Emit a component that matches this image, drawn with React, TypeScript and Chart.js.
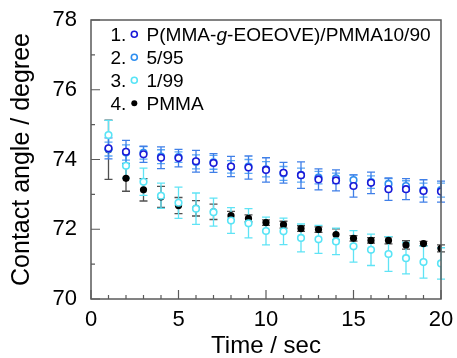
import React, { useEffect, useRef } from 'react';
import { Chart, registerables } from 'chart.js';
Chart.register(...registerables);

const times = [1, 2, 3, 4, 5, 6, 7, 8, 9, 10, 11, 12, 13, 14, 15, 16, 17, 18, 19, 20];
const seriesLabels = ['P(MMA-g-EOEOVE)/PMMA10/90', '5/95', '1/99', 'PMMA'];

const s1Vals = [74.32, 74.22, 74.15, 74.05, 74.04, 73.95, 73.90, 73.80, 73.77, 73.70, 73.62, 73.55, 73.43, 73.40, 73.24, 73.33, 73.15, 73.15, 73.10, 73.08];
const s1Err = [0.30, 0.33, 0.23, 0.31, 0.25, 0.31, 0.27, 0.29, 0.33, 0.35, 0.30, 0.38, 0.30, 0.30, 0.32, 0.31, 0.32, 0.30, 0.32, 0.30];
const s2Vals = [74.30, 74.20, 74.19, 74.08, 74.07, 73.93, 73.92, 73.79, 73.80, 73.72, 73.60, 73.55, 73.48, 73.46, 73.41, 73.35, 73.30, 73.24, 73.12, 73.12];
const s2Err = [0.20, 0.22, 0.18, 0.20, 0.15, 0.20, 0.20, 0.18, 0.20, 0.22, 0.20, 0.20, 0.18, 0.15, 0.15, 0.18, 0.15, 0.15, 0.20, 0.20];
const s3Vals = [74.70, 73.82, 73.36, 72.96, 72.76, 72.59, 72.49, 72.25, 72.17, 71.95, 71.94, 71.75, 71.71, 71.65, 71.51, 71.41, 71.29, 71.17, 71.06, 71.02];
const s3Err = [0.42, 0.35, 0.39, 0.36, 0.45, 0.45, 0.40, 0.37, 0.42, 0.40, 0.38, 0.40, 0.40, 0.38, 0.45, 0.45, 0.50, 0.45, 0.46, 0.45];
const s4Vals = [74.28, 73.46, 73.13, 72.93, 72.68, 72.60, 72.50, 72.39, 72.31, 72.19, 72.13, 72.02, 71.99, 71.85, 71.74, 71.68, 71.68, 71.55, 71.59, 71.45];
const s4Err = [0.85, 0.37, 0.32, 0.30, 0.23, 0.22, 0.22, 0.12, 0.10, 0.08, 0.10, 0.08, 0.08, 0.16, 0.08, 0.08, 0.10, 0.12, 0.06, 0.10];

const xMajorTicks = [0, 5, 10, 15, 20];
const yMajorTicks = [70, 72, 74, 76, 78];

const FONT = '"Liberation Sans", Arial, sans-serif';

const markerColors = ['#1a1ad8', '#2f8ff0', '#58e4f6', '#000000'];
const barColors = ['#3f7fe8', '#5aa8f5', '#5fe3f5', '#505050'];
const errs = [s1Err, s2Err, s3Err, s4Err];

const errorBarPlugin = {
  id: 'errorBars',
  beforeDatasetsDraw(chart: any) {
    const { ctx, scales } = chart;
    const xs = scales.x, ys = scales.y;
    ctx.save();
    ctx.lineWidth = 1.3;
    for (let d = chart.data.datasets.length - 1; d >= 0; d--) {
      const ds = chart.data.datasets[d];
      const e = errs[d];
      ctx.strokeStyle = barColors[d];
      ds.data.forEach((p: any, i: number) => {
        const x = xs.getPixelForValue(p.x);
        const yt = ys.getPixelForValue(p.y + e[i]);
        const yb = ys.getPixelForValue(p.y - e[i]);
        ctx.beginPath();
        ctx.moveTo(x, yt); ctx.lineTo(x, yb);
        ctx.moveTo(x - 4, yt); ctx.lineTo(x + 4, yt);
        ctx.moveTo(x - 4, yb); ctx.lineTo(x + 4, yb);
        ctx.stroke();
      });
    }
    ctx.restore();
  },
};

const framePlugin = {
  id: 'frame',
  afterDraw(chart: any) {
    const { ctx, chartArea: a, scales } = chart;
    ctx.save();
    ctx.strokeStyle = '#5a5a5a';
    ctx.lineWidth = 1.5;
    ctx.strokeRect(a.left, a.top, a.right - a.left, a.bottom - a.top);
    ctx.lineWidth = 1.2;
    ctx.beginPath();
    for (let v = 0; v <= 20; v++) {
      const x = scales.x.getPixelForValue(v);
      const len = v % 5 === 0 ? 9 : 4;
      ctx.moveTo(x, a.bottom); ctx.lineTo(x, a.bottom - len);
    }
    for (let v = 70; v <= 78; v++) {
      const y = scales.y.getPixelForValue(v);
      const len = v % 2 === 0 ? 9 : 4;
      ctx.moveTo(a.left, y); ctx.lineTo(a.left + len, y);
    }
    ctx.stroke();
    ctx.restore();
  },
};

const legendPlugin = {
  id: 'customLegend',
  afterDraw(chart: any) {
    const { ctx } = chart;
    ctx.save();
    const size = 18;
    const normal = `${size}px ${FONT}`;
    const italic = `italic ${size}px ${FONT}`;
    const baselines = [40.5, 63.5, 86.5, 109.5];
    seriesLabels.forEach((label, i) => {
      const by = baselines[i];
      ctx.save();
      ctx.translate(110.5, by);
      ctx.scale(1.06, 1);
      ctx.fillStyle = '#000';
      ctx.textBaseline = 'alphabetic';
      ctx.textAlign = 'left';
      ctx.font = normal;
      ctx.fillText(`${i + 1}.`, 0, 0);
      ctx.restore();
      ctx.beginPath();
      ctx.arc(134.3, by - 6.3, 3, 0, Math.PI * 2);
      if (i === 3) {
        ctx.fillStyle = '#000';
        ctx.fill();
      } else {
        ctx.strokeStyle = markerColors[i];
        ctx.lineWidth = 1.6;
        ctx.stroke();
      }
      ctx.save();
      ctx.translate(146.5, by);
      ctx.scale(1.06, 1);
      ctx.fillStyle = '#000';
      ctx.textBaseline = 'alphabetic';
      ctx.textAlign = 'left';
      let x = 0;
      const parts = label.split(/(-g-)/);
      parts.forEach((part) => {
        if (part === '-g-') {
          ctx.font = normal; ctx.fillText('-', x, 0); x += ctx.measureText('-').width;
          ctx.font = italic; ctx.fillText('g', x, 0); x += ctx.measureText('g').width;
          ctx.font = normal; ctx.fillText('-', x, 0); x += ctx.measureText('-').width;
        } else {
          ctx.font = normal; ctx.fillText(part, x, 0); x += ctx.measureText(part).width;
        }
      });
      ctx.restore();
    });
    ctx.restore();
  },
};

function toPoints(vals: number[]) {
  return times.map((t, i) => ({ x: t, y: vals[i] }));
}

export default function App() {
  const ref = useRef<HTMLCanvasElement | null>(null);
  useEffect(() => {
    if (!ref.current) return;
    const valsList = [s1Vals, s2Vals, s3Vals, s4Vals];
    const chart = new Chart(ref.current, {
      type: 'scatter',
      data: {
        datasets: valsList.map((vals, i) => ({
          label: seriesLabels[i],
          data: toPoints(vals),
          showLine: false,
          pointStyle: 'circle',
          pointRadius: i === 3 ? 3.6 : 3.3,
          pointBorderWidth: i === 3 ? 0 : 1.6,
          pointBackgroundColor: i === 3 ? '#000' : '#ffffff',
          pointBorderColor: markerColors[i],
          pointHoverRadius: 3.3,
        })),
      },
      options: {
        responsive: false,
        animation: false,
        devicePixelRatio: 1,
        layout: { padding: { top: 20, right: 16, left: 0, bottom: 0 } },
        plugins: { legend: { display: false }, tooltip: { enabled: false } },
        scales: {
          x: {
            type: 'linear',
            min: 0,
            max: 20,
            afterFit: (s: any) => { s.height = 59; s.paddingLeft = 0; s.paddingRight = 0; },
            afterBuildTicks: (s: any) => { s.ticks = xMajorTicks.map((v) => ({ value: v })); },
            grid: { display: false, drawTicks: false },
            border: { display: false },
            ticks: { color: '#000', padding: 8, font: { family: FONT, size: 22 }, maxRotation: 0 },
            title: { display: true, text: 'Time / sec', color: '#000', font: { family: FONT, size: 24, lineHeight: 1 }, padding: { top: 0, bottom: 0 } },
          },
          y: {
            type: 'linear',
            min: 70,
            max: 78,
            afterFit: (s: any) => { s.width = 91; s.paddingTop = 0; s.paddingBottom = 0; },
            afterBuildTicks: (s: any) => { s.ticks = yMajorTicks.map((v) => ({ value: v })); },
            grid: { display: false, drawTicks: false },
            border: { display: false },
            ticks: { color: '#000', padding: 14, font: { family: FONT, size: 22 } },
            title: { display: true, text: 'Contact angle / degree', color: '#000', font: { family: FONT, size: 25, lineHeight: 1 }, padding: { top: 10, bottom: 0 } },
          },
        },
      },
      plugins: [errorBarPlugin, framePlugin, legendPlugin],
    } as any);
    return () => chart.destroy();
  }, []);
  return (
    <div style={{ position: 'absolute', left: 0, top: 0, width: 457, height: 358, background: '#fff' }}>
      <canvas ref={ref} width={457} height={358} style={{ display: 'block' }} />
    </div>
  );
}
